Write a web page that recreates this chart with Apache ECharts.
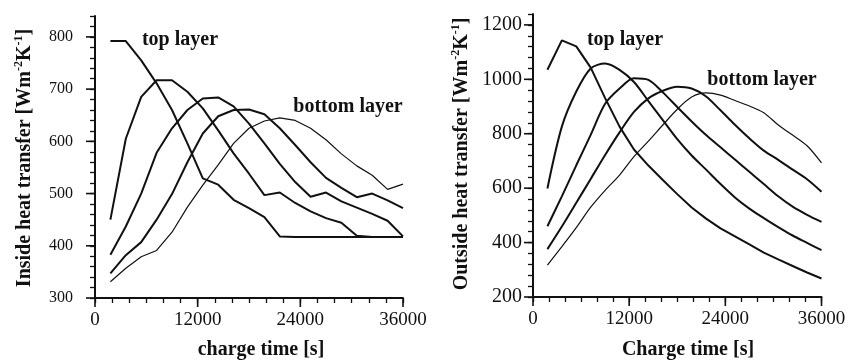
<!DOCTYPE html>
<html>
<head>
<meta charset="utf-8">
<script src="https://cdn.jsdelivr.net/npm/echarts@6/dist/echarts.min.js"></script>
<style>
  html, body { margin: 0; background: #fff; }
  #chart { width: 851px; height: 364px; }
</style>
</head>
<body>
<div id="chart"></div>
<script>
// charge time samples [s]
const chargeTime = [1800, 3600, 5400, 7200, 9000, 10800, 12600, 14400, 16200, 18000,
  19800, 21600, 23400, 25200, 27000, 28800, 30600, 32400, 34200, 36000]

// inside heat transfer, top layer -> bottom layer
const inside1 = [792, 792, 755, 711, 660, 596, 529, 517, 488, 472, 455, 418, 417, 417, 417, 417, 417, 417, 417, 417]
const inside2 = [450, 605, 685, 717, 717, 695, 663, 621, 577, 538, 497, 502, 482, 466, 453, 444, 419, 417, 417, 417]
const inside3 = [383, 437, 500, 578, 625, 660, 682, 684, 667, 634, 596, 557, 522, 494, 502, 485, 473, 461, 448, 418]
const inside4 = [347, 382, 407, 450, 499, 560, 615, 648, 660, 661, 652, 625, 593, 560, 530, 511, 493, 500, 487, 472]
const inside5 = [331, 357, 379, 391, 426, 474, 516, 555, 596, 625, 639, 645, 640, 625, 603, 576, 553, 535, 508, 518]

// outside heat transfer, top layer -> bottom layer
const outside1 = [1035, 1143, 1121, 1043, 931, 826, 742, 683, 630, 578, 529, 488, 452, 423, 393, 363, 338, 314, 290, 268]
const outside2 = [599, 826, 955, 1040, 1058, 1035, 990, 920, 850, 780, 720, 668, 615, 566, 525, 490, 457, 426, 399, 372]
const outside3 = [460, 570, 684, 796, 910, 966, 1004, 998, 952, 898, 845, 795, 750, 705, 660, 615, 570, 532, 502, 476]
const outside4 = [376, 459, 546, 634, 722, 805, 880, 930, 958, 973, 966, 937, 886, 833, 783, 738, 704, 668, 633, 587]
const outside5 = [317, 385, 455, 530, 592, 648, 716, 773, 832, 890, 935, 950, 942, 922, 902, 877, 832, 795, 756, 693]

const timeTicks = [0, 12000, 24000, 36000]
const insideTicks = [300, 400, 500, 600, 700, 800]
const outsideTicks = [200, 400, 600, 800, 1000, 1200]

const SERIF = '"Liberation Serif", "Times New Roman", serif'
const INK = "#111"

const pairs = (vals) => vals.map((v, i) => [chargeTime[i], v])
const plain = (v) => String(v)

const line = (vals, idx, opts = {}) => ({
  type: "line",
  xAxisIndex: idx,
  yAxisIndex: idx,
  data: pairs(vals),
  showSymbol: false,
  silent: true,
  smooth: opts.smooth || false,
  lineStyle: { color: INK, width: opts.width || 2 },
})

// long ticks at the labelled values, drawn through the axes' scales
const bigTicks = (idx, yBase, yLabels) => ({
  type: "custom",
  xAxisIndex: idx,
  yAxisIndex: idx,
  silent: true,
  clip: false,
  z: 5,
  data: [
    ...timeTicks.map((t) => [t, yBase, 0]),
    ...yLabels.map((v) => [0, v, 1]),
  ],
  renderItem: (params, api) => {
    const p = api.coord([api.value(0), api.value(1)])
    const onY = api.value(2) === 1
    const shape = onY
      ? { x1: p[0] - 9, y1: p[1], x2: p[0], y2: p[1] }
      : { x1: p[0], y1: p[1], x2: p[0], y2: p[1] + 9 }
    return { type: "line", shape, style: { stroke: INK, lineWidth: 1.6 } }
  },
})

const axisLine = { show: true, onZero: false, lineStyle: { color: INK, width: 2 } }
const shortTick = { show: true, inside: false, length: 5, lineStyle: { color: INK, width: 1.3 } }

// the axis itself steps by the small-tick spacing; only the round values get labels
const xAxisFor = (grid) => ({
  type: "value", gridIndex: grid, min: 0, max: 36000, interval: 2000, position: "bottom",
  axisLine,
  axisTick: shortTick,
  axisLabel: { customValues: timeTicks, formatter: plain, color: INK, fontFamily: SERIF, fontSize: 19, margin: 13 },
  splitLine: { show: false },
})
const yAxisFor = (grid, min, max, step, labels, size, margin) => ({
  type: "value", gridIndex: grid, min, max, interval: step, position: "left",
  axisLine,
  axisTick: shortTick,
  axisLabel: { customValues: labels, formatter: plain, color: INK, fontFamily: SERIF, fontSize: size, margin },
  splitLine: { show: false },
})

const richTitle = {
  b: { fontFamily: SERIF, fontSize: 20, fontWeight: "bold", fill: INK, color: INK, lineHeight: 24 },
  s: { fontFamily: SERIF, fontSize: 12, fontWeight: "bold", fill: INK, color: INK, lineHeight: 12, verticalAlign: "top" },
}

const label = (text, x, y, rotate) => ({
  type: "text",
  x, y,
  rotation: rotate ? Math.PI / 2 : 0,
  silent: true,
  style: {
    text,
    rich: richTitle,
    fill: INK,
    align: "center", verticalAlign: "middle",
    textAlign: "center", textVerticalAlign: "middle",
  },
})

const chart = echarts.init(document.getElementById("chart"), null, { renderer: "canvas" })

chart.setOption({
  backgroundColor: "#fff",
  animation: false,
  grid: [
    { left: 95, top: 16, width: 308, height: 282 },
    { left: 533, top: 14, width: 288.5, height: 283 },
  ],
  xAxis: [xAxisFor(0), xAxisFor(1)],
  yAxis: [
    yAxisFor(0, 300, 840, 20, insideTicks, 16, 22),
    yAxisFor(1, 200, 1240, 40, outsideTicks, 20, 11),
  ],
  series: [
    bigTicks(0, 300, insideTicks),
    bigTicks(1, 200, outsideTicks),
    line(inside1, 0),
    line(inside2, 0),
    line(inside3, 0),
    line(inside4, 0),
    line(inside5, 0, { width: 1.2 }),
    line(outside1, 1),
    line(outside2, 1, { smooth: 0.3 }),
    line(outside3, 1, { smooth: 0.3 }),
    line(outside4, 1, { smooth: 0.3 }),
    line(outside5, 1, { smooth: 0.3, width: 1.2 }),
  ],
  graphic: [
    label("{b|Inside heat transfer [Wm}{s|-2}{b|K}{s|-1}{b|]}", 25, 158, true),
    label("{b|Outside heat transfer [Wm}{s|-2}{b|K}{s|-1}{b|]}", 462, 154, true),
    label("{b|charge time [s]}", 261, 350),
    label("{b|Charge time [s]}", 688, 350),
    label("{b|top layer}", 180, 40),
    label("{b|bottom layer}", 348, 107),
    label("{b|top layer}", 625, 40),
    label("{b|bottom layer}", 762, 80),
  ],
})
</script>
</body>
</html>
